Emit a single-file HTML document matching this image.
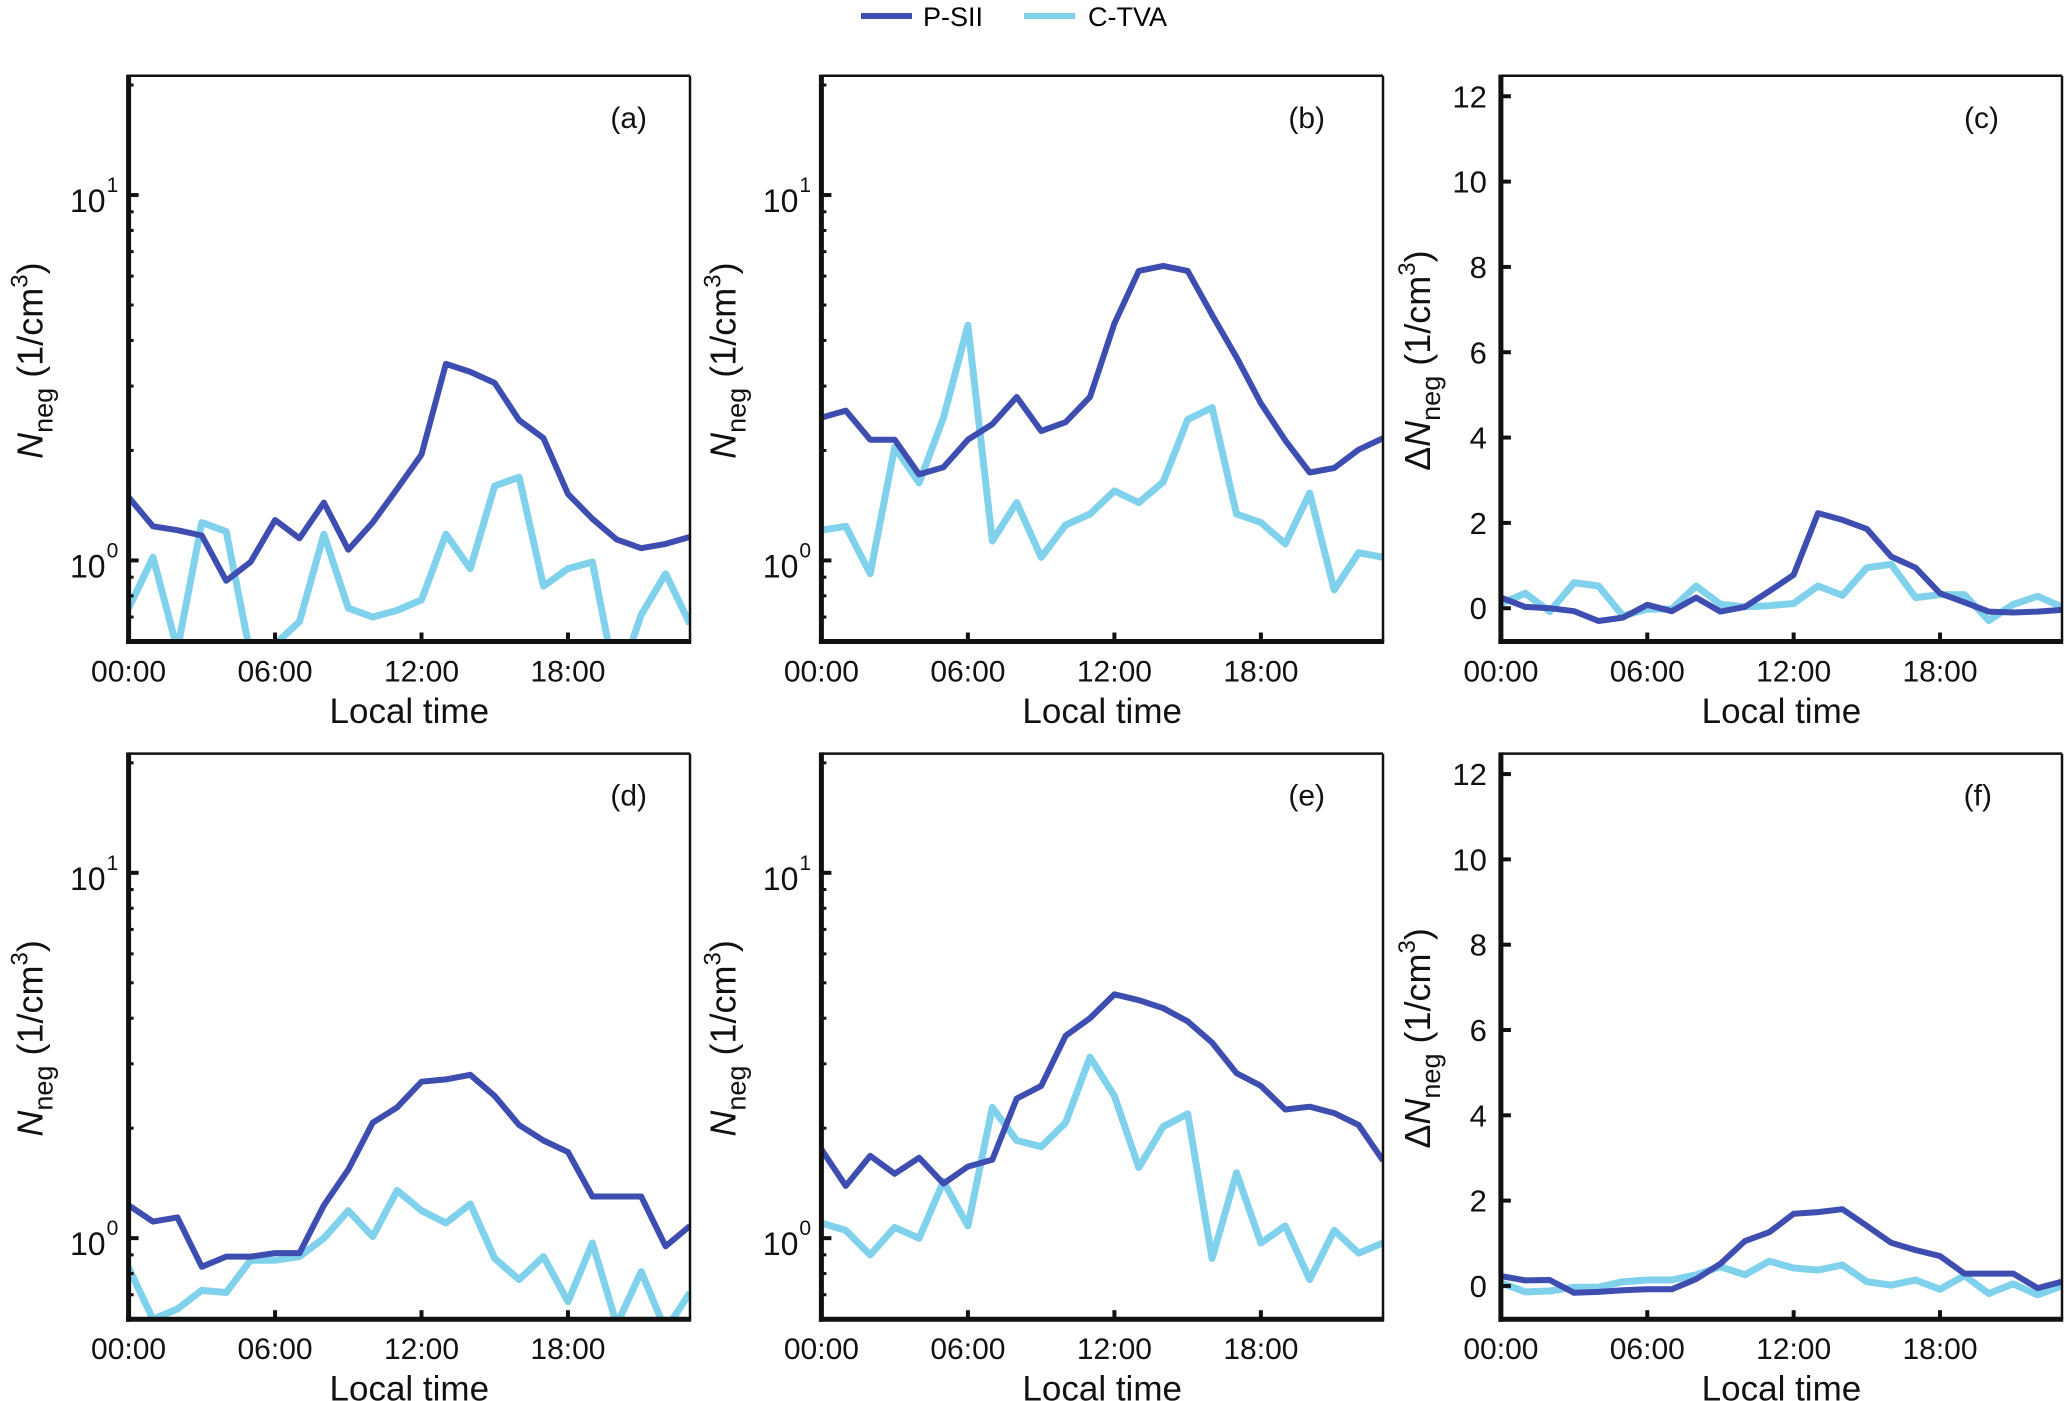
<!DOCTYPE html>
<html><head><meta charset="utf-8">
<style>
html,body{margin:0;padding:0;background:#fff;}
svg{display:block;font-family:"Liberation Sans",Arial,sans-serif;}
</style></head>
<body>
<svg id="chart" width="2067" height="1401" viewBox="0 0 2067 1401" xmlns="http://www.w3.org/2000/svg">
<g>
  <line x1="861" y1="16" x2="912" y2="16" stroke="#3E4DB0" stroke-width="6"/>
  <text x="923" y="26" font-size="27">P-SII</text>
  <line x1="1024" y1="16" x2="1075" y2="16" stroke="#80D2EC" stroke-width="6"/>
  <text x="1088" y="26" font-size="27">C-TVA</text>
</g>
</svg>
<script>
// ---- data ----
const hours = [0,1,2,3,4,5,6,7,8,9,10,11,12,13,14,15,16,17,18,19,20,21,22,23];
const xTickValues = [0,6,12,18];
const xTickLabels = ["00:00","06:00","12:00","18:00"];
const logTickValues = [1,10];
const logTickExps = ["0","1"];
const linTickValues = [0,2,4,6,8,10,12];
const panelLetters = ["(a)","(b)","(c)","(d)","(e)","(f)"];

const psiiA = [1.49,1.24,1.21,1.17,0.88,0.99,1.29,1.15,1.44,1.07,1.27,1.57,1.95,3.45,3.28,3.06,2.42,2.16,1.52,1.30,1.14,1.08,1.11,1.16];
const ctvaA = [0.74,1.02,0.57,1.27,1.20,0.55,0.59,0.68,1.18,0.74,0.70,0.73,0.78,1.18,0.95,1.60,1.69,0.85,0.95,0.99,0.45,0.71,0.92,0.67];
const psiiB = [2.46,2.57,2.14,2.14,1.72,1.80,2.14,2.36,2.80,2.26,2.39,2.80,4.45,6.2,6.4,6.2,4.7,3.6,2.69,2.13,1.74,1.79,2.01,2.16];
const ctvaB = [1.21,1.24,0.92,2.04,1.63,2.46,4.4,1.13,1.44,1.02,1.25,1.34,1.55,1.44,1.64,2.43,2.62,1.34,1.27,1.11,1.53,0.83,1.05,1.02];
const psiiC = [0.25,0.03,0,-0.07,-0.3,-0.22,0.08,-0.07,0.25,-0.08,0.03,0.4,0.78,2.23,2.07,1.86,1.21,0.95,0.35,0.14,-0.08,-0.1,-0.08,-0.04];
const ctvaC = [0.11,0.35,-0.08,0.6,0.52,-0.18,-0.02,-0.02,0.52,0.09,0.03,0.06,0.11,0.52,0.3,0.95,1.03,0.25,0.32,0.32,-0.29,0.09,0.28,0.03];
const psiiD = [1.23,1.11,1.14,0.835,0.89,0.89,0.91,0.91,1.23,1.54,2.07,2.28,2.68,2.72,2.80,2.45,2.04,1.85,1.72,1.30,1.30,1.30,0.95,1.08];
const ctvaD = [0.83,0.60,0.64,0.72,0.71,0.87,0.87,0.89,1.0,1.19,1.01,1.35,1.19,1.10,1.24,0.88,0.77,0.89,0.67,0.97,0.58,0.81,0.56,0.71];
const psiiE = [1.75,1.39,1.68,1.50,1.66,1.41,1.57,1.64,2.41,2.61,3.58,4.00,4.65,4.48,4.26,3.92,3.43,2.83,2.61,2.25,2.29,2.20,2.04,1.63];
const ctvaE = [1.10,1.05,0.90,1.07,1.0,1.43,1.08,2.28,1.85,1.78,2.07,3.13,2.45,1.56,2.02,2.19,0.88,1.51,0.97,1.08,0.77,1.05,0.91,0.97];
const psiiF = [0.23,0.13,0.14,-0.16,-0.14,-0.1,-0.08,-0.08,0.16,0.52,1.05,1.26,1.69,1.73,1.80,1.41,1.01,0.84,0.70,0.29,0.29,0.29,-0.05,0.1];
const ctvaF = [0.07,-0.14,-0.12,-0.03,-0.03,0.1,0.14,0.14,0.26,0.45,0.26,0.58,0.42,0.37,0.49,0.1,0.02,0.14,-0.08,0.24,-0.18,0.05,-0.21,0];

const NS = "http://www.w3.org/2000/svg";
const svg = document.getElementById("chart");
const C1 = "#3E4DB0", C2 = "#80D2EC";
function mk(tag, attrs, parent){
  const e = document.createElementNS(NS, tag);
  for (const k in attrs) e.setAttribute(k, attrs[k]);
  (parent||svg).appendChild(e);
  return e;
}

const panels = [
  {id:"a", L:128.6, R:690,   T:75.8,  B:641.5,  log:true,  s1:psiiA, s2:ctvaA, lblEnd:647},
  {id:"b", L:821.4, R:1383,  T:75.8,  B:641.5,  log:true,  s1:psiiB, s2:ctvaB, lblEnd:1325},
  {id:"c", L:1500.9,R:2062,  T:75.8,  B:641.5,  log:false, s1:psiiC, s2:ctvaC, lblEnd:1999},
  {id:"d", L:128.6, R:690,   T:753.6, B:1319.2, log:true,  s1:psiiD, s2:ctvaD, lblEnd:647},
  {id:"e", L:821.4, R:1383,  T:753.6, B:1319.2, log:true,  s1:psiiE, s2:ctvaE, lblEnd:1325},
  {id:"f", L:1500.9,R:2062,  T:753.6, B:1319.2, log:false, s1:psiiF, s2:ctvaF, lblEnd:1992}
];

panels.forEach((p, pi) => {
  const g = mk("g", {});
  
  
  const xs = v => p.L + (v - 0) / 23 * (p.R - p.L);
  let ys;
  if (p.log) {
    const lo = Math.log10(0.6), hi = Math.log10(21.2);
    ys = v => p.B - (Math.log10(v) - lo) / (hi - lo) * (p.B - p.T);
  } else {
    const lo = -0.78, hi = 12.48;
    ys = v => p.B - (v - lo) / (hi - lo) * (p.B - p.T);
  }
  const cp = mk("clipPath", {id:"clip-" + p.id}, g);
  mk("rect", {x:p.L, y:p.T, width:p.R - p.L, height:p.B - p.T}, cp);

  [[p.s1, C1, 6, "p-sii"], [p.s2, C2, 7, "c-tva"]].slice().reverse().forEach(([arr, col, w, nm]) => {
    const d = arr.map((v, i) => (i ? "L" : "M") + xs(hours[i]).toFixed(1) + "," + ys(v).toFixed(1)).join(" ");
    const path = mk("path", {d:d, fill:"none", stroke:col, "stroke-width":w, "stroke-linejoin":"round", "clip-path":"url(#clip-" + p.id + ")"}, g);
    
    
  });

  const fr = mk("g", {}, g);
  
  
  mk("line", {x1:p.L, y1:p.T, x2:p.R, y2:p.T, stroke:"#111", "stroke-width":2.5}, fr);
  mk("line", {x1:p.R, y1:p.T, x2:p.R, y2:p.B, stroke:"#111", "stroke-width":2.5}, fr);
  mk("line", {x1:p.L, y1:p.T - 1.2, x2:p.L, y2:p.B + 2.5, stroke:"#111", "stroke-width":5}, fr);
  mk("line", {x1:p.L - 2.5, y1:p.B, x2:p.R + 1.2, y2:p.B, stroke:"#111", "stroke-width":5}, fr);

  const xg = mk("g", {}, g);
  
  
  xTickValues.forEach((v, i) => {
    const x = xs(v);
    if (v > 0) mk("line", {x1:x, y1:p.B, x2:x, y2:p.B - 9, stroke:"#111", "stroke-width":4}, xg);
    const t = mk("text", {x:x, y:p.B + 40, "font-size":30, "text-anchor":"middle", fill:"#111"}, xg);
    t.textContent = xTickLabels[i];
    
    
  });
  const xl = mk("text", {x:(p.L + p.R) / 2, y:p.B + 81.5, "font-size":35, "text-anchor":"middle", fill:"#111"}, g);
  xl.textContent = "Local time";
  
  

  const yg = mk("g", {}, g);
  
  
  if (p.log) {
    const minors = [0.6,0.7,0.8,0.9,2,3,4,5,6,7,8,9,20];
    minors.forEach(v => {
      mk("line", {x1:p.L, y1:ys(v), x2:p.L + 5, y2:ys(v), stroke:"#111", "stroke-width":3}, yg);
    });
    logTickValues.forEach((v, i) => {
      const y = ys(v);
      mk("line", {x1:p.L, y1:y, x2:p.L + 10, y2:y, stroke:"#111", "stroke-width":4}, yg);
      const t = mk("text", {x:p.L - 23, y:y + 17, "font-size":32, "text-anchor":"end", fill:"#111"}, yg);
      t.textContent = "10";
      
      
      const s = mk("text", {x:p.L - 22, y:y - 3, "font-size":21, fill:"#111"}, yg);
      s.textContent = logTickExps[i];
      
      
    });
  } else {
    linTickValues.forEach(v => {
      const y = ys(v);
      mk("line", {x1:p.L, y1:y, x2:p.L + 10, y2:y, stroke:"#111", "stroke-width":4}, yg);
      const t = mk("text", {x:p.L - 14, y:y + 11, "font-size":31, "text-anchor":"end", fill:"#111"}, yg);
      t.textContent = String(v);
      
      
    });
  }
  const cy = (p.T + p.B) / 2 + 2;
  const bx = p.log ? p.L - 86 : p.L - 71;
  const yt = mk("text", {transform:"translate(" + bx + "," + cy + ") rotate(-90)", "text-anchor":"middle", "font-size":36, fill:"#111"}, g);
  
  
  yt.innerHTML = (p.log ? "" : "Δ") + '<tspan font-style="italic">N</tspan><tspan font-size="27" dy="10">neg</tspan><tspan dy="-10"> (1/cm</tspan><tspan font-size="24" dy="-15">3</tspan><tspan dy="15">)</tspan>';

  const pl = mk("text", {x:p.lblEnd, y:p.T + 52, "font-size":30, "text-anchor":"end", fill:"#111"}, g);
  pl.textContent = panelLetters[pi];
  
  
});
</script>
</body></html>
